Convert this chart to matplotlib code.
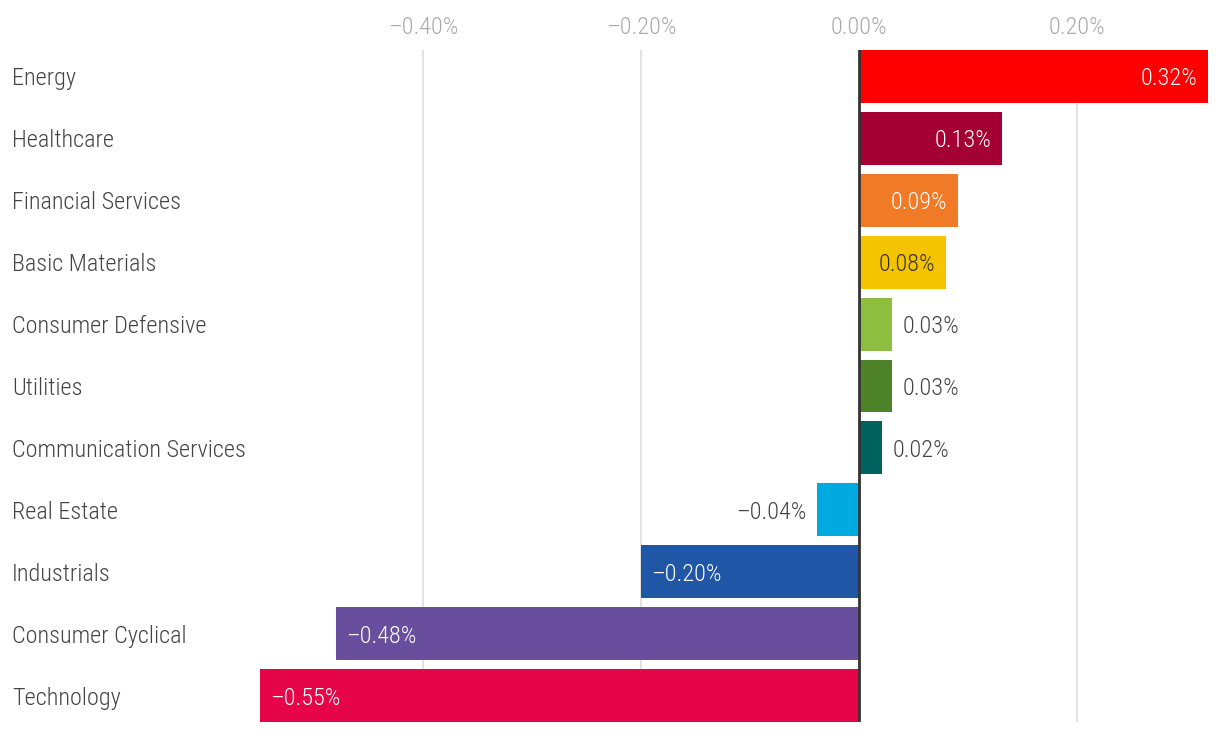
import matplotlib
matplotlib.use("Agg")
import matplotlib.pyplot as plt
import matplotlib.transforms as mtransforms

categories = ["Energy", "Healthcare", "Financial Services", "Basic Materials",
              "Consumer Defensive", "Utilities", "Communication Services",
              "Real Estate", "Industrials", "Consumer Cyclical", "Technology"]
values = [0.32, 0.13, 0.09, 0.08, 0.03, 0.03, 0.02, -0.04, -0.20, -0.48, -0.55]
bar_lengths = [0.320, 0.131, 0.091, 0.080, 0.030, 0.030, 0.021, -0.039, -0.200, -0.480, -0.550]
colors = ["#FF0000", "#A50034", "#F07A26", "#F5C400", "#8DBE3F", "#4E8229",
          "#00625F", "#00A9E0", "#1F56A5", "#6A4E9E", "#E60548"]
label_inside = [True, True, True, True, False, False, False, False, True, True, True]
label_colors = ["white", "white", "white", "#333333", "#444444", "#444444",
                "#444444", "#444444", "white", "white", "white"]
xticks = [-0.40, -0.20, 0.00, 0.20]
xtick_labels = ["–0.40%", "–0.20%", "0.00%", "0.20%"]

FONT = ["Roboto Condensed", "DejaVu Sans"]
plt.rcParams["font.family"] = FONT
plt.rcParams["font.weight"] = 300
FS = 17.5

W, H = 1220, 734
fig = plt.figure(figsize=(W / 100, H / 100), dpi=100)
ax_left, ax_right, ax_top, ax_bottom = 259, 1209, 50, 722
ax = fig.add_axes([ax_left / W, 1 - ax_bottom / H, (ax_right - ax_left) / W,
                   (ax_bottom - ax_top) / H])

xmin = min(bar_lengths) - 0.0005
xmax = max(bar_lengths) + 0.0011
ax.set_xlim(xmin, xmax)
bh = 0.855
ax.set_ylim(len(categories) - 1 + bh / 2, -bh / 2)

ypos = list(range(len(categories)))
ax.barh(ypos, bar_lengths, height=bh, color=colors, zorder=2)

for x in xticks:
    if x != 0:
        ax.axvline(x, color="#E3E3E3", lw=1.5, zorder=1)
ax.axvline(0, color="#333333", lw=2, zorder=3)

ax.set_xticks(xticks)
ax.set_xticklabels(xtick_labels, fontweight=300)
ax.xaxis.tick_top()
ax.tick_params(axis="x", length=0, pad=8, labelsize=FS, labelcolor="#AAAAAA")
ax.set_yticks([])
for s in ax.spines.values():
    s.set_visible(False)

trans = mtransforms.blended_transform_factory(fig.transFigure, ax.transData)
for y, c in zip(ypos, categories):
    ax.text(12 / W, y, c, transform=trans, ha="left", va="center_baseline",
            fontsize=FS, color="#444444", fontweight=300)

px = 10.5 / ((ax_right - ax_left) / (xmax - xmin))
for y, v, L, inside, lc in zip(ypos, values, bar_lengths, label_inside, label_colors):
    txt = ("–" if v < 0 else "") + f"{abs(v):.2f}%"
    if v >= 0:
        x, ha = (L - px, "right") if inside else (L + px, "left")
    else:
        x, ha = (L + px, "left") if inside else (L - px, "right")
    ax.text(x, y, txt, ha=ha, va="center_baseline", fontsize=FS, color=lc, zorder=4,
            fontweight=300)

fig.savefig("out.png", dpi=100)
